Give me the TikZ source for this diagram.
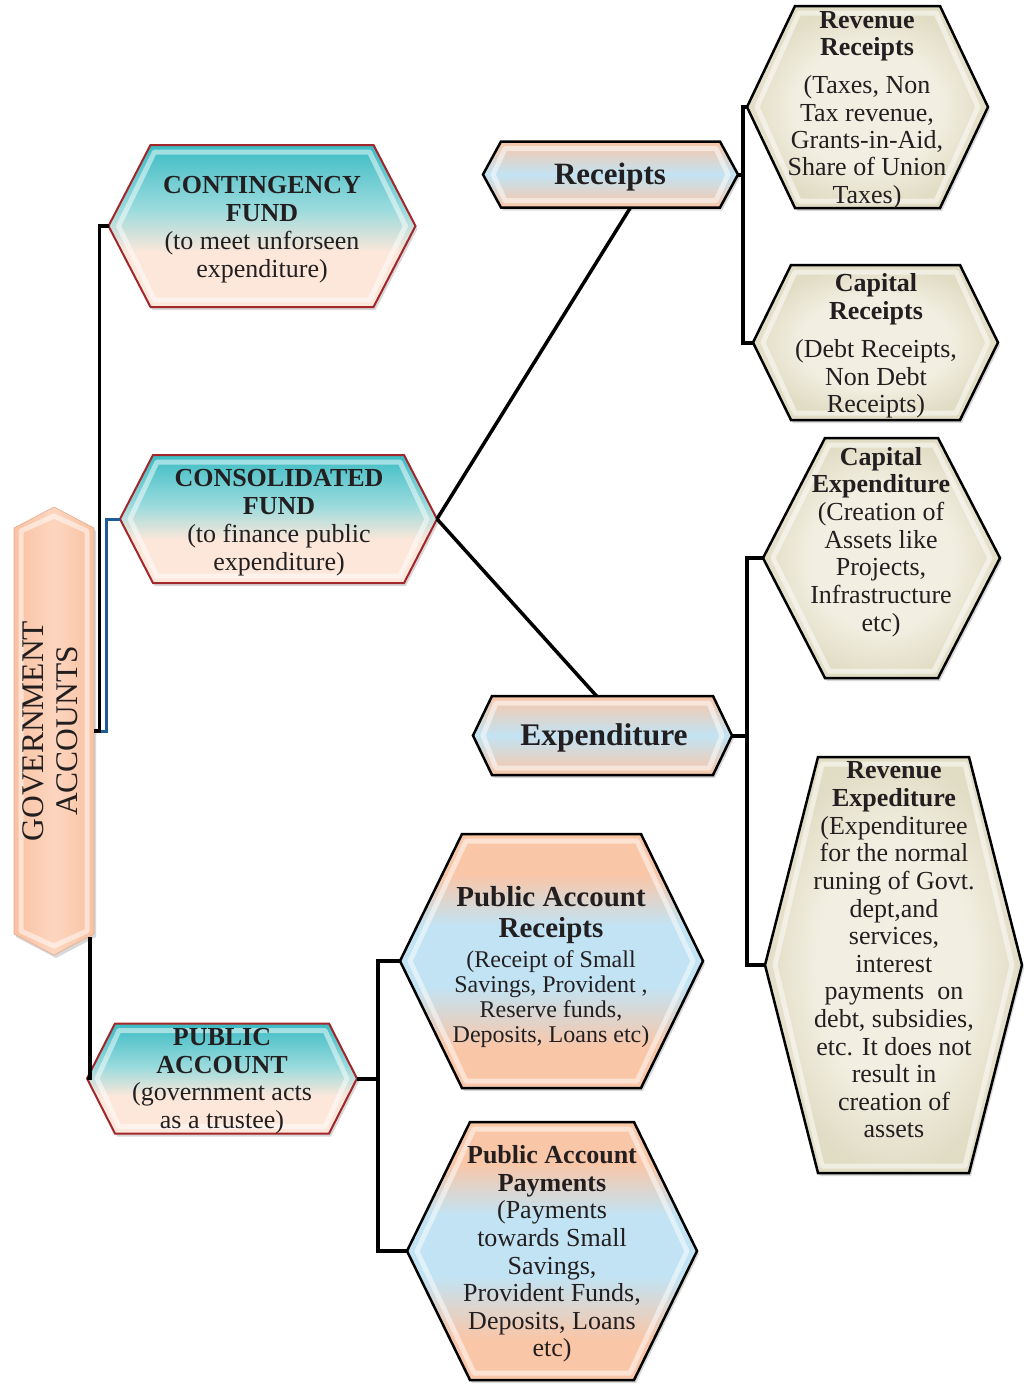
\documentclass[tikz,border=0pt]{standalone}
\usepackage{fontspec}
\setmainfont{Liberation Serif}
\usetikzlibrary{calc,shadows}
\pgfdeclarelayer{background}
\pgfdeclarelayer{canvas}
\pgfsetlayers{canvas,background,main}
\definecolor{ink}{HTML}{231F20}
\definecolor{tlD}{HTML}{3BBCC4}
\definecolor{tlL}{HTML}{9CDBDD}
\definecolor{pkL}{HTML}{FCE7DA}
\definecolor{pk}{HTML}{F9C6A8}
\definecolor{bl}{HTML}{C2E3F3}
\definecolor{bgL}{HTML}{F2EFE2}
\definecolor{bgD}{HTML}{E1DCC4}
\definecolor{rd}{HTML}{A3262A}
\definecolor{lnB}{HTML}{1E5C97}
\definecolor{gvM}{HTML}{FDD6C0}
\definecolor{gvS}{HTML}{F9C2A2}
\pgfdeclareverticalshading{tealfade}{100bp}{color(0bp)=(pkL); color(25bp)=(pkL); color(42bp)=(pkL); color(55bp)=(tlL); color(75bp)=(tlD); color(100bp)=(tlD)}
\pgfdeclareverticalshading{pbband}{100bp}{color(0bp)=(pk); color(25bp)=(pk); color(33bp)=(pk); color(45bp)=(bl); color(57bp)=(bl); color(67bp)=(pk); color(75bp)=(pk); color(100bp)=(pk)}
\pgfdeclareverticalshading{pbthin}{100bp}{color(0bp)=(pk); color(25bp)=(pk); color(50bp)=(bl); color(75bp)=(pk); color(100bp)=(pk)}
\pgfdeclareradialshading{beige}{\pgfpoint{0bp}{0bp}}{color(0bp)=(bgL); color(15bp)=(bgL); color(25bp)=(bgD); color(50bp)=(bgD)}
\tikzset{
  shp/.style={drop shadow={shadow xshift=2pt, shadow yshift=-3pt, opacity=0.3}},
  tealhex/.style={shp, draw=rd, line width=2pt, shade, shading=tealfade},
  pbhex/.style={shp, draw=black, line width=2.5pt, shade, shading=pbthin},
  pbbhex/.style={shp, draw=black, line width=2.5pt, shade, shading=pbband},
  bghex/.style={shp, draw=black, line width=2.5pt, shade, shading=beige},
  govhex/.style={shp, draw=gvS!90!black, line width=0.6pt, left color=gvS, right color=gvS, middle color=gvM},
  bevel/.style={draw=white, line width=5pt, opacity=0.5, line join=round},
  box/.style={inner sep=0pt, outer sep=0pt},
  txt/.style={align=center, inner sep=0pt, text=ink},
  conn/.style={draw=black, line width=3.5pt, line join=miter},
  bconn/.style={draw=lnB, line width=3pt, line join=miter},
}
\newcommand\hexa[6]{%
  \node[box, minimum width=#3pt, minimum height=#4pt] (#1) at (#2) {};
  \begin{pgfonlayer}{background}
    \path[#6] (#1.west) -- ($(#1.north west)+(#5,0)$) -- ($(#1.north east)+(-#5,0)$) -- (#1.east) -- ($(#1.south east)+(-#5,0)$) -- ($(#1.south west)+(#5,0)$) -- cycle;
    \path[bevel] ($(#1.west)+(10,0)$) -- ($(#1.north west)+(#5+4,7)$) -- ($(#1.north east)+(-#5-4,7)$) -- ($(#1.east)+(-10,0)$) -- ($(#1.south east)+(-#5-4,-7)$) -- ($(#1.south west)+(#5+4,-7)$) -- cycle;
  \end{pgfonlayer}}
\begin{document}
\begin{tikzpicture}[x=1pt,y=-1pt]
\begin{pgfonlayer}{canvas}
\fill[white] (0,0) rectangle (1023,1384);
\end{pgfonlayer}
\useasboundingbox (0,0) rectangle (1023,1384);

% Government accounts
\node[box, minimum width=80pt, minimum height=448pt] (gov) at (54,731) {};
\begin{pgfonlayer}{background}
  \path[govhex] (gov.north) -- ($(gov.north east)+(0,21)$) -- ($(gov.south east)+(0,-21)$) -- (gov.south) -- ($(gov.south west)+(0,-21)$) -- ($(gov.north west)+(0,21)$) -- cycle;
  \path[bevel] ($(gov.north)+(0,9)$) -- ($(gov.north east)+(-7,24)$) -- ($(gov.south east)+(-7,-24)$) -- ($(gov.south)+(0,-9)$) -- ($(gov.south west)+(7,-24)$) -- ($(gov.north west)+(7,24)$) -- cycle;
\end{pgfonlayer}
\node[txt, rotate=90, font=\fontsize{31.5}{34}\selectfont] (govT) at (50,731) {GOVERNMENT\\ACCOUNTS};

% hexagons
\hexa{cf}{262,226}{307}{162}{42}{tealhex}
\hexa{cof}{278.5,519}{317}{128}{33}{tealhex}
\hexa{pa}{222,1078.5}{270}{110}{28}{tealhex}
\hexa{rc}{610.5,174.5}{255}{66}{18}{pbhex}
\hexa{ex}{602.5,735.5}{259}{79}{19}{pbhex}
\hexa{rr}{867.5,107}{241}{202}{48}{bghex}
\hexa{cr}{875.5,342.5}{245}{155}{38}{bghex}
\hexa{ce}{881.5,558}{237}{240}{62}{bghex}
\hexa{re}{893.5,965}{257}{416}{53}{bghex}
\hexa{par}{551.5,961}{303}{254}{62}{pbbhex}
\hexa{pap}{552,1251}{290}{258}{63}{pbbhex}

% texts
\node[txt, font=\fontsize{26}{28}\selectfont] (cfT) at (262,230) {\textbf{CONTINGENCY}\\\textbf{FUND}\\(to meet unforseen\\expenditure)};
\node[txt, font=\fontsize{26}{28}\selectfont] (cofT) at (279,523) {\textbf{CONSOLIDATED}\\\textbf{FUND}\\(to finance public\\expenditure)};
\node[txt, font=\fontsize{26}{27.7}\selectfont] (paT) at (222,1081) {\textbf{PUBLIC}\\\textbf{ACCOUNT}\\(government acts\\as a trustee)};
\node[txt, font=\fontsize{31}{34}\selectfont\bfseries] (rcT) at (610,177) {Receipts};
\node[txt, font=\fontsize{31.5}{34}\selectfont\bfseries] (exT) at (604,738) {Expenditure};
\node[txt, font=\fontsize{26}{27.3}\selectfont] (rrT) at (867,110) {\textbf{Revenue}\\\textbf{Receipts}\\[11pt](Taxes, Non\\Tax revenue,\\Grants-in-Aid,\\Share of Union\\Taxes)};
\node[txt, font=\fontsize{26}{27.5}\selectfont] (crT) at (876,346) {\textbf{Capital}\\\textbf{Receipts}\\[11pt](Debt Receipts,\\Non Debt\\Receipts)};
\node[txt, font=\fontsize{26}{27.7}\selectfont] (ceT) at (881,542) {\textbf{Capital}\\\textbf{Expenditure}\\(Creation of\\Assets like\\Projects,\\Infrastructure\\etc)};
\node[txt, font=\fontsize{26}{27.6}\selectfont] (reT) at (894,950) {\textbf{Revenue}\\\textbf{Expediture}\\(Expendituree\\for the normal\\runing of Govt.\\dept,and\\services,\\interest\\payments\ \ on\\debt, subsidies,\\etc. It does not\\result in\\creation of\\assets};
\node[txt, font=\fontsize{24}{25}\selectfont] (parT) at (551,967) {\textbf{\fontsize{29}{31}\selectfont Public Account}\\[6pt]\textbf{\fontsize{29}{31}\selectfont Receipts}\\[5pt](Receipt of Small\\Savings, Provident ,\\Reserve funds,\\Deposits, Loans etc)};
\node[txt, font=\fontsize{26}{27.6}\selectfont] (papT) at (552,1254) {\textbf{Public Account}\\\textbf{Payments}\\(Payments\\towards Small\\Savings,\\Provident Funds,\\Deposits, Loans\\etc)};

% connectors
\draw[bconn] (cof.west) -- ++(-14,0) |- (gov.east);
\draw[conn] (cf.west) -- ++(-9,0) |- (gov.east);
\draw[conn] (pa.west) -- ++(3,0) -- ++(0,-142);
\draw[conn] (cof.east) -- ($(rc.south)+(20,0)$);
\draw[conn] (cof.east) -- ($(ex.north)+(-6,0)$);
\draw[conn, line width=4pt] (rr.west) -- ++(-4,0) |- (rc.east);
\draw[conn, line width=4pt] (cr.west) -- ++(-10,0) |- (rc.east);
\draw[conn, line width=4pt] (ce.west) -- ++(-16,0) |- (ex.east);
\draw[conn, line width=4pt] (re.west) -- ++(-18,0) |- (ex.east);
\draw[conn, line width=4pt] (par.west) -- ++(-22,0) |- (pa.east);
\draw[conn, line width=4pt] (pap.west) -- ++(-29,0) |- (pa.east);
\end{tikzpicture}
\end{document}
